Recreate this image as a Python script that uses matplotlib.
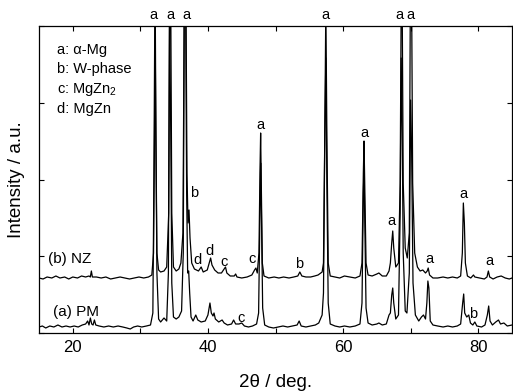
import matplotlib
matplotlib.use("Agg")
import matplotlib.pyplot as plt
from matplotlib.ticker import MultipleLocator, NullFormatter

plt.rcParams['font.family'] = ['Liberation Sans', 'DejaVu Sans']
plt.rcParams['mathtext.fontset'] = 'custom'
plt.rcParams['mathtext.rm'] = 'Liberation Sans'
plt.rcParams['mathtext.it'] = 'Liberation Sans:italic'

# (b) NZ trace, 2theta in deg and intensity in arbitrary units
nz_2theta = [15.0, 15.6, 16.2, 16.9, 17.5, 18.1, 18.8, 19.4, 20.0, 20.7, 21.3, 21.9, 22.4, 22.6,
             22.75, 22.9, 23.5, 24.2, 24.9, 25.6, 26.3, 27.0, 27.7, 28.4, 29.1, 29.8, 30.5, 31.2,
             31.7, 31.95, 32.1, 32.2, 32.3, 32.45, 32.7, 33.0, 33.5, 33.9, 34.2, 34.35, 34.5, 34.65,
             34.9, 35.3, 35.7, 36.0, 36.3, 36.5, 36.75, 36.9, 37.05, 37.2, 37.35, 37.6, 38.0, 38.6,
             39.0, 39.3, 39.9, 40.2, 40.4, 40.6, 41.0, 41.5, 42.0, 42.4, 42.6, 42.8, 43.3, 43.9,
             44.1, 44.3, 45.0, 45.8, 46.5, 46.9, 47.1, 47.3, 47.55, 47.7, 47.8, 47.9, 48.05, 48.3,
             49.0, 49.8, 50.5, 51.2, 52.0, 52.7, 53.3, 53.6, 53.9, 54.5, 55.2, 55.8, 56.3, 56.7,
             56.9, 57.1, 57.3, 57.45, 57.6, 57.8, 58.1, 58.8, 59.5, 60.2, 61.0, 61.8, 62.5, 62.8,
             63.0, 63.1, 63.2, 63.4, 63.7, 64.3, 65.0, 65.3, 65.8, 66.4, 66.8, 67.0, 67.2, 67.35,
             67.5, 67.8, 68.2, 68.45, 68.6, 68.75, 68.9, 69.2, 69.5, 69.8, 69.95, 70.15, 70.3, 70.6,
             71.0, 71.4, 71.8, 72.2, 72.45, 72.6, 72.8, 73.3, 74.0, 74.8, 75.5, 76.2, 76.9, 77.4,
             77.65, 77.8, 77.95, 78.1, 78.4, 78.9, 79.3, 79.5, 80.2, 80.9, 81.3, 81.5, 81.7, 82.2,
             82.8, 83.4, 84.0, 84.6, 85.0]
nz_int = [55, 54, 56, 55, 57, 55, 56, 54, 56, 55, 57, 56, 57, 56,
          62, 56, 56, 55, 56, 54, 55, 56, 55, 54, 55, 56, 55, 56,
          58, 80, 200, 330, 200, 80, 63, 61, 62, 66, 120, 330, 330, 120,
          66, 62, 64, 70, 100, 330, 330, 160, 110, 123, 95, 70, 64, 62,
          66, 61, 63, 70, 75, 68, 63, 60, 60, 64, 66, 60, 57, 57,
          59, 56, 55, 56, 58, 63, 65, 60, 80, 160, 200, 150, 70, 57,
          55, 56, 55, 56, 55, 56, 57, 61, 57, 56, 56, 57, 58, 60,
          61, 70, 200, 330, 200, 70, 57, 56, 55, 57, 56, 55, 57, 70,
          160, 192, 150, 70, 58, 57, 59, 60, 57, 57, 62, 70, 90, 102,
          85, 66, 70, 150, 330, 330, 150, 85, 75, 100, 330, 330, 150, 80,
          66, 62, 63, 60, 62, 65, 58, 55, 55, 56, 55, 56, 55, 57,
          80, 130, 110, 70, 57, 55, 58, 56, 55, 54, 56, 62, 56, 54,
          56, 57, 55, 54, 55]

# (a) PM trace
pm_2theta = [15.0, 15.5, 16.0, 16.6, 17.2, 17.8, 18.4, 19.0, 19.6, 20.2, 20.8, 21.4, 21.9, 22.2,
             22.4, 22.6, 22.8, 23.0, 23.2, 23.4, 23.9, 24.6, 25.3, 26.0, 26.7, 27.4, 28.0, 28.5,
             29.0, 29.6, 30.2, 30.9, 31.5, 31.85, 32.0, 32.15, 32.3, 32.45, 32.7, 33.0, 33.5, 33.9,
             34.15, 34.3, 34.5, 34.65, 34.9, 35.3, 35.7, 36.1, 36.35, 36.5, 36.7, 36.85, 37.0, 37.15,
             37.3, 37.5, 37.8, 38.2, 38.5, 39.0, 39.6, 40.0, 40.3, 40.5, 40.75, 40.9, 41.1, 41.6,
             42.1, 42.4, 42.9, 43.5, 43.8, 44.1, 44.6, 45.0, 45.4, 46.0, 46.6, 47.2, 47.5, 47.7,
             47.8, 47.9, 48.1, 48.4, 49.0, 49.7, 50.4, 51.1, 51.8, 52.5, 53.2, 53.5, 53.8, 54.5,
             55.2, 55.9, 56.4, 56.9, 57.1, 57.3, 57.45, 57.6, 57.8, 58.1, 58.8, 59.5, 60.2, 61.0,
             61.8, 62.5, 62.8, 63.0, 63.1, 63.2, 63.4, 63.7, 64.3, 65.0, 65.3, 65.8, 66.4, 66.8,
             67.0, 67.2, 67.35, 67.5, 67.8, 68.2, 68.45, 68.6, 68.75, 68.9, 69.2, 69.45, 69.8, 70.0,
             70.15, 70.35, 70.7, 71.2, 71.6, 71.9, 72.2, 72.4, 72.55, 72.7, 72.9, 73.3, 74.0, 74.8,
             75.5, 76.2, 76.9, 77.4, 77.7, 77.85, 78.0, 78.3, 78.6, 78.85, 79.2, 79.5, 79.8, 80.5,
             81.0, 81.35, 81.55, 81.75, 82.1, 82.6, 83.0, 83.3, 83.8, 84.3, 85.0]
pm_int = [6, 7, 5, 7, 6, 8, 6, 7, 6, 7, 6, 8, 9, 12,
          8, 15, 9, 8, 13, 8, 7, 6, 7, 6, 7, 6, 5, 4,
          6, 7, 6, 7, 8, 20, 150, 330, 200, 60, 14, 11, 15, 12,
          60, 330, 200, 50, 16, 14, 16, 22, 80, 330, 330, 140, 60, 62,
          40, 16, 12, 18, 13, 11, 12, 18, 30, 20, 17, 20, 14, 11,
          13, 10, 8, 9, 13, 9, 9, 10, 7, 6, 7, 9, 20, 120,
          170, 130, 25, 8, 6, 5, 6, 7, 6, 7, 8, 12, 7, 6,
          7, 8, 10, 18, 40, 200, 275, 150, 30, 9, 7, 6, 7, 6,
          7, 9, 30, 140, 165, 120, 25, 10, 8, 9, 10, 8, 9, 18,
          20, 38, 45, 30, 14, 18, 120, 275, 200, 80, 22, 20, 60, 233,
          180, 50, 18, 12, 16, 18, 14, 30, 52, 45, 12, 8, 7, 6,
          7, 6, 7, 9, 30, 39, 20, 16, 18, 10, 8, 11, 7, 6,
          8, 18, 27, 12, 8, 11, 13, 9, 10, 7, 8]

# phase letters: (2theta, intensity, letter)
peak_x = [31.9, 34.4, 36.8, 57.35, 68.4, 70.0, 47.8, 63.1, 67.2, 72.8, 77.8, 81.6,
          37.9, 38.5, 40.3, 42.4, 46.5, 53.5, 44.9, 79.3]
peak_y = [318, 318, 318, 318, 318, 318, 208, 200, 112, 74, 139, 72,
          140, 73, 82, 71, 74, 69, 15, 19]
peak_txt = ['a', 'a', 'a', 'a', 'a', 'a', 'a', 'a', 'a', 'a', 'a', 'a',
            'b', 'd', 'd', 'c', 'c', 'b', 'c', 'b']

legend_lines = ['a: α-Mg', 'b: W-phase', 'c: MgZn$_2$', 'd: MgZn']

fig = plt.figure(figsize=(5.13, 3.92), dpi=100)
ax = fig.add_axes([39 / 513, 1 - 333 / 392, 473 / 513, 307 / 392])

ax.plot(pm_2theta, pm_int, color='black', lw=0.9)
ax.plot(nz_2theta, nz_int, color='black', lw=0.9)

ax.set_xlim(15, 85)
ax.set_ylim(0, 307)
ax.xaxis.set_major_locator(MultipleLocator(20))
ax.xaxis.set_minor_locator(MultipleLocator(10))
ax.set_yticks([0, 76.75, 153.5, 230.25, 307])
ax.yaxis.set_major_formatter(NullFormatter())
ax.tick_params(which='both', direction='in', top=True, right=True, length=3.5, width=0.8,
               labelsize=12, pad=5)
for s in ax.spines.values():
    s.set_linewidth(0.9)

for x, y, t in zip(peak_x, peak_y, peak_txt):
    ax.text(x, y, t, ha='center', va='center', fontsize=10.5, clip_on=False)

for i, t in enumerate(legend_lines):
    ax.text(17.7, 283 - i * 19.5, t, ha='left', va='center', fontsize=10.5)

ax.text(16.3, 74, '(b) NZ', ha='left', va='center', fontsize=11)
ax.text(17.0, 21, '(a) PM', ha='left', va='center', fontsize=11)

ax.set_xlabel('2θ / deg.', fontsize=13.5, labelpad=14)
ax.set_ylabel('Intensity / a.u.', fontsize=13.5, labelpad=5)

fig.savefig('out.png', dpi=100)
